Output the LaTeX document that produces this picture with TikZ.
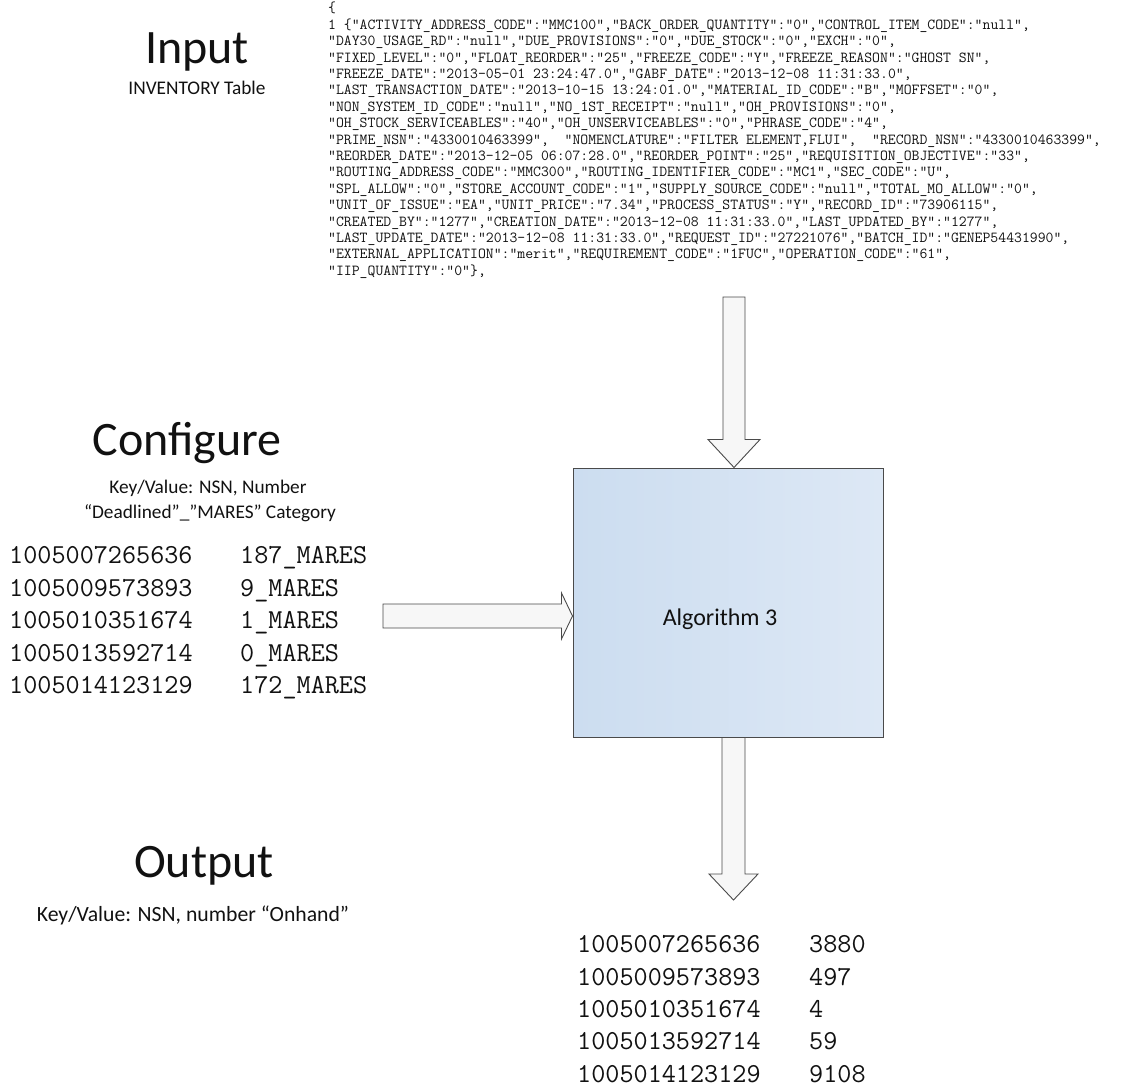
\documentclass[tikz,border=0pt]{standalone}
\usepackage{fontspec}
\setmainfont{Carlito}
\usetikzlibrary{calc}
\definecolor{txt}{HTML}{111111}
\definecolor{edge}{HTML}{4A4A4A}
\definecolor{boxL}{HTML}{CCDDF0}
\definecolor{boxR}{HTML}{DDE8F5}
\begin{document}
\begin{tikzpicture}[x=1pt,y=-1pt,
  title/.style={font=\fontsize{48}{56}\selectfont, text=txt, inner sep=0, anchor=base},
  sub/.style={font=\fontsize{19.3}{23}\selectfont, text=txt, inner sep=0, anchor=base},
  json/.style={font=\ttfamily\fontsize{15.31}{16.4}\selectfont, text=txt, inner sep=0, align=left, anchor=north west},
  tab/.style={font=\ttfamily\fontsize{27.4}{29}\selectfont, text=txt, inner sep=0, anchor=base west},
  algobox/.style={draw=edge, line width=1pt, left color=boxL, right color=boxR, inner sep=0, minimum width=310pt, minimum height=269pt},
  blockarrow/.style={draw=edge, line width=0.9pt, fill=gray!6, line join=miter}
]
\useasboundingbox (0,0) rectangle (1135,1087);

% Input
\node[title] (inTitle) at (197,63) {Input};
\node[sub] (inSub) at (197,94) {INVENTORY Table};
\node[json] (json) at (328,2) {%
\{\\
1 \{"ACTIVITY\_ADDRESS\_CODE":"MMC100","BACK\_ORDER\_QUANTITY":"0","CONTROL\_ITEM\_CODE":"null",\\
"DAY30\_USAGE\_RD":"null","DUE\_PROVISIONS":"0","DUE\_STOCK":"0","EXCH":"0",\\
"FIXED\_LEVEL":"0","FLOAT\_REORDER":"25","FREEZE\_CODE":"Y","FREEZE\_REASON":"GHOST SN",\\
"FREEZE\_DATE":"2013-05-01 23:24:47.0","GABF\_DATE":"2013-12-08 11:31:33.0",\\
"LAST\_TRANSACTION\_DATE":"2013-10-15 13:24:01.0","MATERIAL\_ID\_CODE":"B","MOFFSET":"0",\\
"NON\_SYSTEM\_ID\_CODE":"null","NO\_1ST\_RECEIPT":"null","OH\_PROVISIONS":"0",\\
"OH\_STOCK\_SERVICEABLES":"40","OH\_UNSERVICEABLES":"0","PHRASE\_CODE":"4",\\
"PRIME\_NSN":"4330010463399",~~"NOMENCLATURE":"FILTER ELEMENT,FLUI",~~"RECORD\_NSN":"4330010463399",\\
"REORDER\_DATE":"2013-12-05 06:07:28.0","REORDER\_POINT":"25","REQUISITION\_OBJECTIVE":"33",\\
"ROUTING\_ADDRESS\_CODE":"MMC300","ROUTING\_IDENTIFIER\_CODE":"MC1","SEC\_CODE":"U",\\
"SPL\_ALLOW":"0","STORE\_ACCOUNT\_CODE":"1","SUPPLY\_SOURCE\_CODE":"null","TOTAL\_MO\_ALLOW":"0",\\
"UNIT\_OF\_ISSUE":"EA","UNIT\_PRICE":"7.34","PROCESS\_STATUS":"Y","RECORD\_ID":"73906115",\\
"CREATED\_BY":"1277","CREATION\_DATE":"2013-12-08 11:31:33.0","LAST\_UPDATED\_BY":"1277",\\
"LAST\_UPDATE\_DATE":"2013-12-08 11:31:33.0","REQUEST\_ID":"27221076","BATCH\_ID":"GENEP54431990",\\
"EXTERNAL\_APPLICATION":"merit","REQUIREMENT\_CODE":"1FUC","OPERATION\_CODE":"61",\\
"IIP\_QUANTITY":"0"\},};

% Configure
\node[title] (cfgTitle) at (187,455) {Configure};
\node[sub] (cfgSub1) at (208,493) {Key/Value: NSN, Number};
\node[sub] (cfgSub2) at (210,518) {“Deadlined”\_”MARES” Category};
\node[tab] (c1a) at (9,563) {1005007265636};
\node[tab] (c1b) at (240,563) {187\_MARES};
\node[tab] (c2a) at (9,596) {1005009573893};
\node[tab] (c2b) at (240,596) {9\_MARES};
\node[tab] (c3a) at (9,628) {1005010351674};
\node[tab] (c3b) at (240,628) {1\_MARES};
\node[tab] (c4a) at (9,661) {1005013592714};
\node[tab] (c4b) at (240,661) {0\_MARES};
\node[tab] (c5a) at (9,693) {1005014123129};
\node[tab] (c5b) at (240,693) {172\_MARES};

% Algorithm box
\node[algobox] (algo) at (728,602.5) {};
\node[font=\fontsize{24}{29}\selectfont, text=txt, inner sep=0, anchor=base] (algoLbl) at (720,625) {Algorithm 3};

% Output
\node[title] (outTitle) at (204,877) {Output};
\node[sub, font=\fontsize{21.7}{26}\selectfont] (outSub) at (193,921) {Key/Value: NSN, number “Onhand”};
\node[tab] (o1a) at (577,952) {1005007265636};
\node[tab] (o1b) at (809,952) {3880};
\node[tab] (o2a) at (577,985) {1005009573893};
\node[tab] (o2b) at (809,985) {497};
\node[tab] (o3a) at (577,1017) {1005010351674};
\node[tab] (o3b) at (809,1017) {4};
\node[tab] (o4a) at (577,1049) {1005013592714};
\node[tab] (o4b) at (809,1049) {59};
\node[tab] (o5a) at (577,1082) {1005014123129};
\node[tab] (o5b) at (809,1082) {9108};

% connectors (block arrows)
\coordinate (inStart) at (734,297);
\coordinate (inTip) at (inStart |- algo.north);
\draw[blockarrow] ($(inStart)+(-11,0)$) -- ($(inTip)+(-11,-28)$) -- ($(inTip)+(-26,-28)$)
  -- (inTip) -- ($(inTip)+(26,-28)$) -- ($(inTip)+(11,-28)$) -- ($(inStart)+(11,0)$) -- cycle;

\coordinate (cfgStart) at (383,616);
\coordinate (cfgTip) at (cfgStart -| algo.west);
\draw[blockarrow] ($(cfgStart)+(0,-12)$) -- ($(cfgTip)+(-11,-12)$) -- ($(cfgTip)+(-11,-23)$)
  -- (cfgTip) -- ($(cfgTip)+(-11,23)$) -- ($(cfgTip)+(-11,12)$) -- ($(cfgStart)+(0,12)$) -- cycle;

\coordinate (outEnd) at (733.5,900);
\coordinate (outStart) at (outEnd |- algo.south);
\draw[blockarrow] ($(outStart)+(-11.5,0)$) -- ($(outEnd)+(-11.5,-26)$) -- ($(outEnd)+(-24.5,-26)$)
  -- (outEnd) -- ($(outEnd)+(24.5,-26)$) -- ($(outEnd)+(11.5,-26)$) -- ($(outStart)+(11.5,0)$) -- cycle;
\end{tikzpicture}
\end{document}
